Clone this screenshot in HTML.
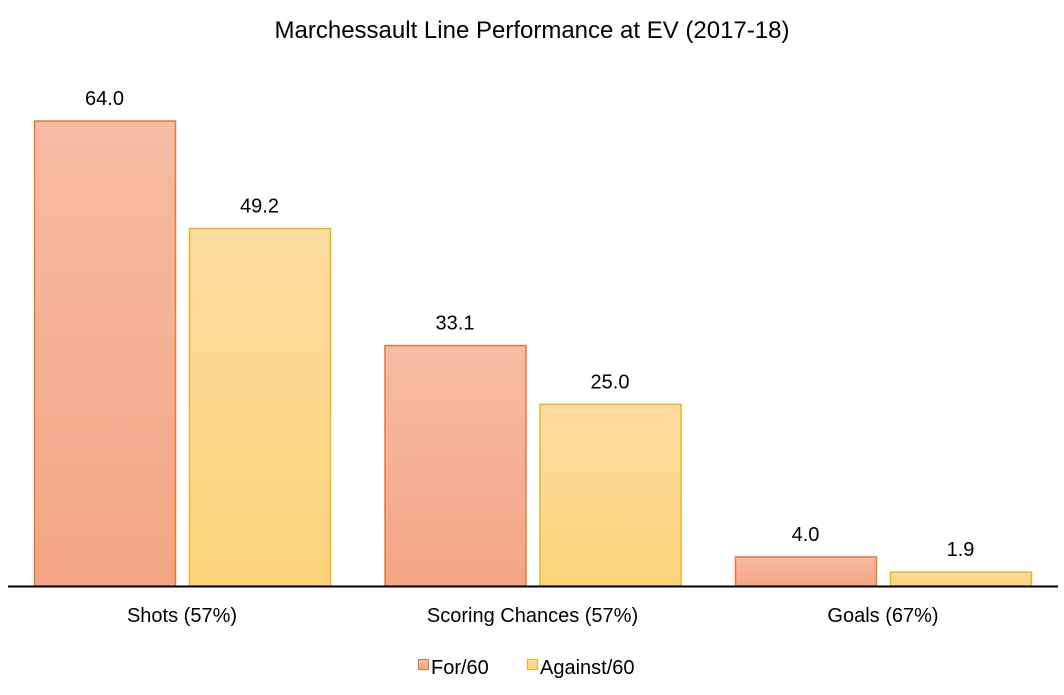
<!DOCTYPE html>
<html><head><meta charset="utf-8"><style>
body{margin:0;background:#fff;}
svg{display:block;font-family:"Liberation Sans",Arial,sans-serif;}
</style></head><body>
<svg id="chart" width="1064" height="695" viewBox="0 0 1064 695">
<defs>
<linearGradient id="gFor" x1="0" y1="0" x2="0" y2="1"><stop offset="0" stop-color="#f6bca4"/><stop offset="1" stop-color="#f4a583"/></linearGradient>
<linearGradient id="gAg" x1="0" y1="0" x2="0" y2="1"><stop offset="0" stop-color="#fddba0"/><stop offset="1" stop-color="#fdd47a"/></linearGradient>
</defs>
<text x="532" y="38" text-anchor="middle" font-size="24" fill="#000">Marchessault Line Performance at EV (2017-18)</text>
<g id="bars"></g>
<line x1="8" y1="586.5" x2="1058" y2="586.5" stroke="#000" stroke-width="2"/>
<g>
<rect x="418.5" y="659.5" width="10" height="10" fill="url(#gFor)" stroke="#e07b39"/>
<text x="431" y="674" font-size="20">For/60</text>
<rect x="527.5" y="659.5" width="10" height="10" fill="url(#gAg)" stroke="#e8b521"/>
<text x="540" y="674" font-size="20">Against/60</text>
</g>
</svg>
<script>
const categories = ["Shots (57%)", "Scoring Chances (57%)", "Goals (67%)"];
const forValues = [64.0, 33.1, 4.0];
const againstValues = [49.2, 25.0, 1.9];
const valueLabelsFor = ["64.0", "33.1", "4.0"];
const valueLabelsAgainst = ["49.2", "25.0", "1.9"];

const NS = "http://www.w3.org/2000/svg";
const baseY = 586, pxPerUnit = 465 / 64;
const groupStart = 34, groupW = 350.5, barW = 141, gap = 14;
const y = v => baseY - v * pxPerUnit;
const g = document.getElementById('bars');
function mk(tag, attrs){const e=document.createElementNS(NS,tag);for(const k in attrs)e.setAttribute(k,attrs[k]);return e;}
categories.forEach((c,i)=>{
  const x0 = groupStart + i*groupW;
  [[forValues[i],valueLabelsFor[i],"url(#gFor)","#e07b39","for"],[againstValues[i],valueLabelsAgainst[i],"url(#gAg)","#e8b521","against"]].forEach((s,j)=>{
    const x = x0 + j*(barW+gap);
    const r = mk('rect',{x:x+0.5,y:y(s[0]),width:barW,height:baseY-y(s[0]),fill:s[2],stroke:s[3],'stroke-width':1.5});
    
    
    g.appendChild(r);
    const t = mk('text',{x:x+barW/2,y:y(s[0])-16,'text-anchor':'middle','font-size':20});
    t.textContent = s[1];
    
    
    g.appendChild(t);
  });
  const lt = mk('text',{x:x0+barW+gap/2,y:622,'text-anchor':'middle','font-size':20});
  lt.textContent = c;
  
  
  g.appendChild(lt);
});
</script>
</body></html>
